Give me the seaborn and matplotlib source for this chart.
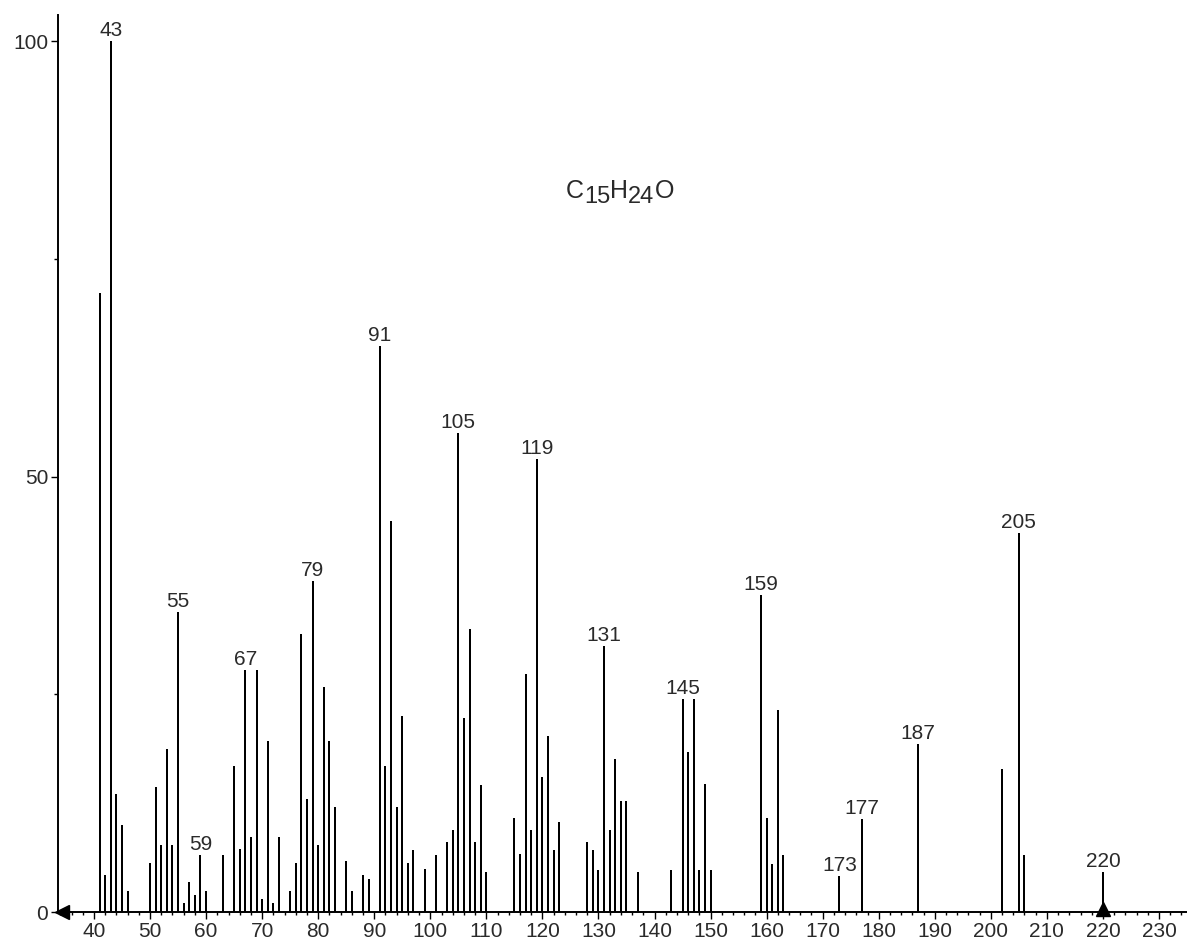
import matplotlib
matplotlib.use("Agg")
import matplotlib.pyplot as plt
import matplotlib.transforms as mtransforms
from matplotlib.ticker import MultipleLocator, FixedLocator
import seaborn as sns
import pandas as pd

# ---- data (m/z and relative intensity) ----
mz = [41, 42, 43, 44, 45, 46, 50, 51, 52, 53, 54, 55, 56, 57, 58, 59, 60,
      63, 65, 66, 67, 68, 69, 70, 71, 72, 73, 75, 76, 77, 78, 79, 80, 81,
      82, 83, 85, 86, 88, 89, 91, 92, 93, 94, 95, 96, 97, 99, 101, 103,
      104, 105, 106, 107, 108, 109, 110, 115, 116, 117, 118, 119, 120,
      121, 122, 123, 128, 129, 130, 131, 132, 133, 134, 135, 137, 143,
      145, 146, 147, 148, 149, 150, 159, 160, 161, 162, 163, 173, 177,
      187, 202, 205, 206, 220]
intensity = [71.1, 4.3, 100.0, 13.5, 10.0, 2.4, 5.6, 14.3, 7.7, 18.7, 7.7,
             34.4, 1.0, 3.4, 1.9, 6.5, 2.4,
             6.5, 16.8, 7.2, 27.8, 8.6, 27.8, 1.5, 19.6, 1.0, 8.6, 2.4, 5.6,
             31.9, 13.0, 38.0, 7.7, 25.8,
             19.6, 12.0, 5.9, 2.4, 4.2, 3.8, 65.0, 16.8, 44.9, 12.0, 22.5,
             5.6, 7.1, 4.9, 6.5, 8.0,
             9.4, 55.0, 22.3, 32.5, 8.0, 14.6, 4.6, 10.8, 6.7, 27.3, 9.4,
             52.0, 15.5,
             20.2, 7.1, 10.3, 8.0, 7.1, 4.8, 30.6, 9.4, 17.6, 12.8, 12.8,
             4.6, 4.8,
             24.5, 18.4, 24.5, 4.8, 14.7, 4.8, 36.4, 10.8, 5.5, 23.2, 6.6,
             4.1, 10.7,
             19.3, 16.4, 43.5, 6.5, 4.6]
labelled_peaks = [43, 55, 59, 67, 79, 91, 105, 119, 131, 145, 159, 173,
                  177, 187, 205, 220]
molecular_ion = 220
formula_parts = ["C", "15", "H", "24", "O"]
x_major_ticks = list(range(40, 231, 10))
y_major_ticks = [0, 50, 100]
y_minor_ticks = [25, 75]

df = pd.DataFrame({"mz": mz, "intensity": intensity})

# ---- style ----
sns.set_theme(style="ticks")
plt.rcParams["font.family"] = ["Liberation Sans", "DejaVu Sans"]
TXT = "#2a2a2a"

W, H = 1187, 947
fig = plt.figure(figsize=(W / 100, H / 100), dpi=100)
ax = fig.add_axes([58 / W, 35 / H, (W - 58) / W, (932 - 35) / H])

sns.barplot(data=df, x="mz", y="intensity", native_scale=True,
            color="black", width=0.36, errorbar=None, linewidth=0,
            saturation=1, ax=ax)

xmin, xmax = 33.58, 235.0
ax.set_xlim(xmin, xmax)
ax.set_ylim(0, 103)

for s in ["top", "right"]:
    ax.spines[s].set_visible(False)
for s in ["left", "bottom"]:
    ax.spines[s].set_color("black")
    ax.spines[s].set_linewidth(1.4)

ax.xaxis.set_major_locator(FixedLocator(x_major_ticks))
ax.xaxis.set_minor_locator(MultipleLocator(2))
ax.yaxis.set_major_locator(FixedLocator(y_major_ticks))
ax.yaxis.set_minor_locator(FixedLocator(y_minor_ticks))
ax.set_xticklabels([str(t) for t in x_major_ticks])
ax.set_yticklabels([str(t) for t in y_major_ticks])

ax.tick_params(axis="x", which="major", direction="out", length=5,
               width=1.0, color="black", labelsize=15, labelcolor=TXT, pad=2)
ax.tick_params(axis="x", which="minor", direction="out", length=2.5,
               width=1.0, color="black", bottom=True)
ax.tick_params(axis="y", which="major", direction="out", length=5,
               width=1.0, color="black", labelsize=15, labelcolor=TXT, pad=2)
ax.tick_params(axis="y", which="minor", direction="out", length=3,
               width=1.0, color="black", left=True)
ax.set_xlabel("")
ax.set_ylabel("")

# peak labels
lookup = dict(zip(mz, intensity))
for p in labelled_peaks:
    ax.annotate(str(p), xy=(p, lookup[p]), xytext=(0, 3.6),
                textcoords="offset points", ha="center", va="baseline",
                fontsize=15, color=TXT)

# axis markers: left arrow at origin, molecular-ion triangle
ax.plot([xmin + 0.75], [0], marker="<", color="black", markersize=10,
        clip_on=False, zorder=5)
tri_off = mtransforms.ScaledTranslation(0, 3 / 100, fig.dpi_scale_trans)
ax.plot([molecular_ion], [0], marker="^", color="black", markersize=10,
        clip_on=False, zorder=5, transform=ax.transData + tri_off)

# molecular formula with lowered digits
prev = ax.text(124.2, 82.0, formula_parts[0], ha="left", va="baseline",
               fontsize=18, color=TXT)
lowered = False
for part in formula_parts[1:]:
    is_digit = part.isdigit()
    dy = 0
    if is_digit and not lowered:
        dy = -4.0
        lowered = True
    elif not is_digit and lowered:
        dy = 4.0
        lowered = False
    prev = ax.annotate(part, xy=(1, 0), xycoords=prev, xytext=(0, dy),
                       textcoords="offset points", ha="left", va="bottom",
                       fontsize=17 if is_digit else 18, color=TXT)

fig.savefig("out.png", dpi=100)
